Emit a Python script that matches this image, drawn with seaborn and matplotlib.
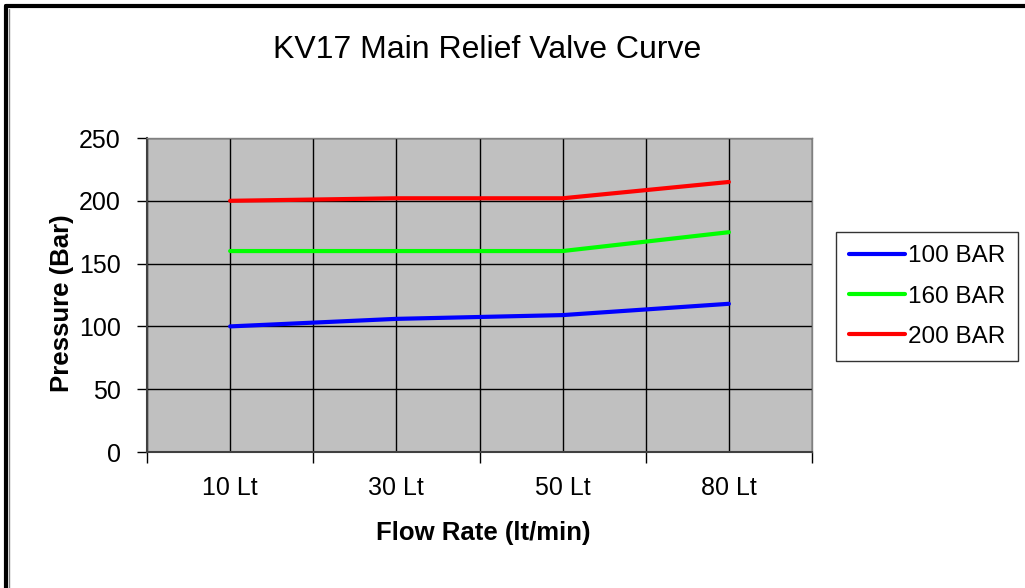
import numpy as np
import pandas as pd
import seaborn as sns
import matplotlib.pyplot as plt
from matplotlib.lines import Line2D
from matplotlib.ticker import FixedLocator

# flow categories and pressure readings per relief setting
flow_labels = ['10 Lt', '30 Lt', '50 Lt', '80 Lt']
bar_100 = [100, 106, 109, 118]
bar_160 = [160, 160, 160, 175]
bar_200 = [200, 202, 202, 215]
series_names = ['100 BAR', '160 BAR', '200 BAR']
series_colors = ['#0000FF', '#00FF00', '#FF0000']

pos = np.arange(len(flow_labels))
df = pd.DataFrame({
    'pos': np.tile(pos, 3),
    'pressure': bar_100 + bar_160 + bar_200,
    'setting': np.repeat(series_names, len(flow_labels)),
})

sns.set_theme(style='white')
plt.rcParams['font.family'] = ['Liberation Sans', 'DejaVu Sans']
plt.rcParams['text.color'] = 'black'

fig = plt.figure(figsize=(10.25, 5.88), dpi=100)
ax = fig.add_axes([147 / 1025, 1 - 452 / 588, 665 / 1025, 314 / 588])
ax.set_facecolor('#C0C0C0')

sns.lineplot(data=df, x='pos', y='pressure', hue='setting',
             palette=dict(zip(series_names, series_colors)),
             linewidth=3, ax=ax, legend=False)

ax.set_xlim(-0.5, len(flow_labels) - 0.5)
ax.set_ylim(0, 250)
ax.set_yticks(np.arange(0, 251, 50))
ax.set_xticks(pos)
ax.set_xticklabels(flow_labels)
ax.xaxis.set_minor_locator(FixedLocator(np.arange(-0.5, len(flow_labels), 1.0)))
ax.tick_params(axis='x', which='major', length=0, pad=17, labelsize=18, colors='black')
ax.tick_params(axis='x', which='minor', length=8, width=1, direction='out',
               bottom=True, color='black')
ax.tick_params(axis='y', length=7, width=1, direction='out', left=True,
               pad=12, labelsize=18, colors='black')
ax.grid(True, which='both', color='black', linewidth=1)
ax.set_axisbelow(True)
ax.set_xlabel('')
ax.set_ylabel('')

for side in ['left', 'bottom']:
    ax.spines[side].set_color('#404040')
    ax.spines[side].set_linewidth(1.5)
for side in ['top', 'right']:
    ax.spines[side].set_color('#808080')
    ax.spines[side].set_linewidth(1)

fig.text(487 / 1025, 1 - 50 / 588, 'KV17 Main Relief Valve Curve',
         ha='center', va='center', fontsize=23, color='black')
fig.text(483 / 1025, 1 - 533 / 588, 'Flow Rate (lt/min)',
         ha='center', va='center', fontsize=18.5, fontweight='bold', color='black')
fig.text(62 / 1025, 1 - 303 / 588, 'Pressure (Bar)', rotation=90,
         ha='center', va='center', fontsize=18.5, fontweight='bold', color='black')

handles = [Line2D([], [], color=c, linewidth=3) for c in series_colors]
leg = fig.legend(handles, series_names, loc='upper left',
                 bbox_to_anchor=(836 / 1025, 1 - 232 / 588),
                 fontsize=17.5, frameon=True, fancybox=False,
                 edgecolor='black', handlelength=2.3, handletextpad=0.1,
                 labelspacing=0.75, borderpad=0.55, borderaxespad=0)
leg.get_frame().set_linewidth(1)
for t in leg.get_texts():
    t.set_color('black')

# outer chart frame (left and top edges only)
fig.add_artist(Line2D([6 / 1025, 6 / 1025], [0, 1 - 6 / 588],
                      transform=fig.transFigure, color='black', linewidth=3))
fig.add_artist(Line2D([6 / 1025, 1], [1 - 6 / 588, 1 - 6 / 588],
                      transform=fig.transFigure, color='black', linewidth=3))
fig.add_artist(Line2D([9 / 1025, 9 / 1025], [0, 1 - 9 / 588],
                      transform=fig.transFigure, color='#808080', linewidth=1))

fig.savefig('out.png', dpi=100)
